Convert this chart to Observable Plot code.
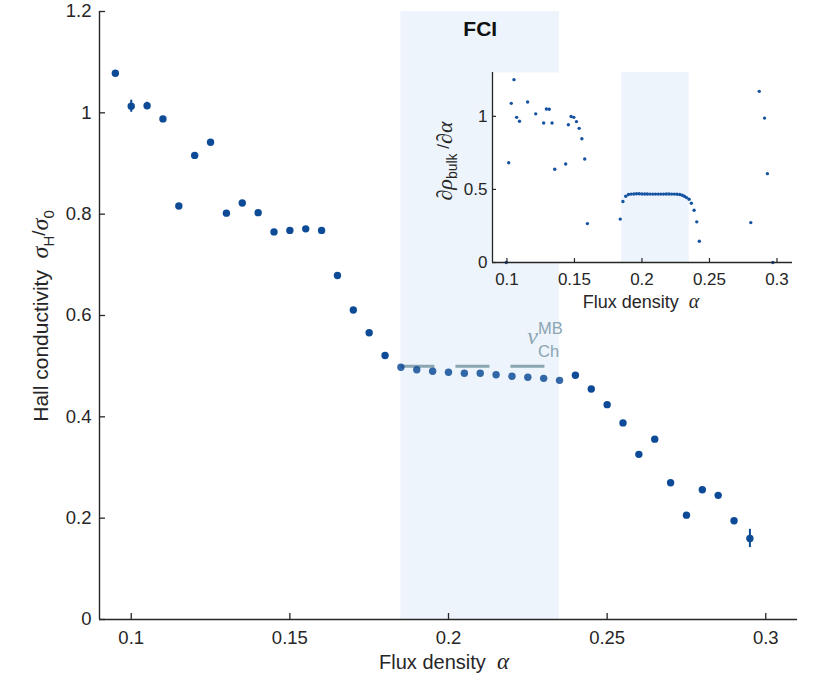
<!DOCTYPE html>
<html>
<head>
<meta charset="utf-8">
<script src="https://cdn.jsdelivr.net/npm/d3@7"></script>
<script src="https://cdn.jsdelivr.net/npm/@observablehq/plot@0.6"></script>
<style>
  body { margin: 0; background: #fff; }
  #wrap { position: relative; width: 830px; height: 683px; font-family: "Liberation Sans", Arial, sans-serif; }
  #inset { position: absolute; left: 432px; top: 67px; }
</style>
</head>
<body>
<div id="wrap"><div id="main"></div><div id="inset"></div></div>
<script>
// ---------- data: main panel ----------
const alpha = [0.095,0.100,0.105,0.110,0.115,0.120,0.125,0.130,0.135,0.140,0.145,0.150,0.155,0.160,0.165,0.170,0.175,0.180,0.185,0.190,0.195,0.200,0.205,0.210,0.215,0.220,0.225,0.230,0.235,0.240,0.245,0.250,0.255,0.260,0.265,0.270,0.275,0.280,0.285,0.290,0.295];
const sigmaH = [1.078,1.013,1.014,0.988,0.816,0.916,0.942,0.802,0.822,0.803,0.765,0.768,0.771,0.768,0.679,0.611,0.566,0.521,0.498,0.493,0.490,0.488,0.486,0.486,0.483,0.480,0.478,0.476,0.472,0.482,0.455,0.424,0.388,0.326,0.356,0.270,0.206,0.256,0.245,0.195,0.160];
const errAlpha = [0.100,0.105,0.295];
const errHalf  = [0.012,0.007,0.018];
const fciRange = [0.185, 0.235];
const nuChMB = 0.5;
const xTicks = [0.1,0.15,0.2,0.25,0.3];
const yTicks = [0,0.2,0.4,0.6,0.8,1,1.2];

// ---------- data: inset ----------
const insetAlpha = [0.0995,0.1013,0.1032,0.1052,0.1072,0.1093,0.1153,0.1213,0.1272,0.1292,0.1313,0.1334,0.1354,0.1435,0.1455,0.1475,0.1495,0.1515,0.1535,0.1555,0.1576,0.1596,0.1839,0.1859,0.1880,0.1900,0.1920,0.1940,0.1960,0.1980,0.2000,0.2020,0.2040,0.2060,0.2080,0.2100,0.2120,0.2140,0.2160,0.2180,0.2200,0.2220,0.2240,0.2260,0.2280,0.2298,0.2314,0.2330,0.2349,0.2366,0.2386,0.2406,0.2425,0.2806,0.2869,0.2908,0.2929,0.2970];
const insetDeriv = [0,0.683,1.089,1.251,0.993,0.966,1.098,1.017,0.954,1.05,1.049,0.954,0.638,0.674,0.942,0.999,0.993,0.964,0.918,0.847,0.708,0.266,0.297,0.417,0.453,0.465,0.468,0.469,0.470,0.470,0.469,0.469,0.469,0.468,0.468,0.468,0.468,0.468,0.468,0.469,0.469,0.468,0.468,0.467,0.465,0.460,0.453,0.444,0.433,0.405,0.358,0.278,0.145,0.273,1.171,0.988,0.608,0];
const insetXTicks = [0.1,0.15,0.2,0.25,0.3];
const insetYTicks = [0,0.5,1];

// ---------- styles ----------
const ink = "#262626";
const dotColor = "#0e4b96";
const shade = "#edf4fc";
const nuColor = "#8ba5b1";
const sans = "Liberation Sans, Arial, sans-serif";
const serif = "Liberation Serif, DejaVu Serif, serif";
const fmt = d => String(+d.toFixed(2));

const pts = alpha.map((a, i) => ({a, s: sigmaH[i], inFci: a >= fciRange[0] && a <= fciRange[1]}));
const errs = errAlpha.map((a, i) => {
  const s = sigmaH[alpha.findIndex(v => Math.abs(v - a) < 1e-9)];
  return {a, lo: s - errHalf[i], hi: s + errHalf[i]};
});

const main = Plot.plot({
  width: 830, height: 683,
  marginLeft: 99, marginRight: 33, marginTop: 11, marginBottom: 64,
  style: {background: "transparent", fontFamily: sans, color: ink},
  x: {domain: [0.09, 0.31]},
  y: {domain: [0, 1.2]},
  marks: [
    Plot.rect([fciRange], {x1: d => d[0], x2: d => d[1], y1: 0, y2: 1.2, fill: shade}),
    Plot.ruleY([nuChMB], {x1: fciRange[0], x2: fciRange[1], stroke: nuColor, strokeWidth: 3, strokeDasharray: "34,21"}),
    Plot.ruleX(errs, {x: "a", y1: "lo", y2: "hi", stroke: dotColor, strokeWidth: 2}),
    Plot.dot(pts, {x: "a", y: "s", r: 3.7, fill: dotColor, fillOpacity: d => d.inFci ? 0.84 : 1, stroke: "none"}),
    Plot.ruleY([0], {stroke: ink, strokeWidth: 1.4}),
    Plot.ruleX([0.09], {stroke: ink, strokeWidth: 1.4}),
    Plot.ruleX(xTicks, {x: d => d, y1: 0, y2: 0, insetBottom: 6, stroke: ink, strokeWidth: 1.3}),
    Plot.ruleY(yTicks, {y: d => d, x1: 0.09, x2: 0.09, insetRight: -6, stroke: ink, strokeWidth: 1.3}),
    Plot.axisX({ticks: xTicks, tickFormat: fmt, tickSize: 0, tickPadding: 11, fontSize: 18.5, label: null, fill: ink}),
    Plot.axisY({ticks: yTicks, tickFormat: fmt, tickSize: 0, tickPadding: 8, fontSize: 18.5, label: null, fill: ink}),
    Plot.text(["FCI"], {x: 0.21, y: 1.164, text: d => d, fontSize: 21, fontWeight: "bold", fill: "#111"}),
    Plot.text(["ν"], {x: 0.2282, y: 0.5444, text: d => d, textAnchor: "end", lineAnchor: "bottom", fontSize: 24, fontStyle: "italic", fontFamily: serif, fill: nuColor}),
    Plot.text(["MB"], {x: 0.2282, y: 0.5444, text: d => d, textAnchor: "start", lineAnchor: "bottom", dy: -10, fontSize: 16.5, fill: nuColor}),
    Plot.text(["Ch"], {x: 0.2282, y: 0.5444, text: d => d, textAnchor: "start", lineAnchor: "bottom", dy: 13, fontSize: 16.5, fill: nuColor})
  ]
});
document.getElementById("main").appendChild(main);

{
  const svg = d3.select(main);
  const xt = svg.append("text").attr("x", 444).attr("y", 669).attr("text-anchor", "middle")
    .attr("font-size", 20).attr("fill", ink).attr("font-family", sans);
  xt.append("tspan").text("Flux density  ");
  xt.append("tspan").attr("font-family", serif).attr("font-style", "italic").attr("font-size", 23).text("α");

  const yt = svg.append("text").attr("transform", "translate(48,316) rotate(-90)").attr("text-anchor", "middle")
    .attr("font-size", 21).attr("fill", ink).attr("font-family", sans);
  yt.append("tspan").text("Hall conductivity  ");
  yt.append("tspan").attr("font-family", serif).attr("font-style", "italic").attr("font-size", 24).text("σ");
  yt.append("tspan").attr("dy", 6).attr("font-size", 15).text("H");
  yt.append("tspan").attr("dy", -9).attr("font-size", 19).text("/");
  yt.append("tspan").attr("dy", 3).attr("font-family", serif).attr("font-style", "italic").attr("font-size", 24).text("σ");
  yt.append("tspan").attr("dy", 6).attr("font-size", 15).text("0");
}

// ---------- inset ----------
const inPts = insetAlpha.map((a, i) => ({a, d: insetDeriv[i]}));
const xDom = [0.0893, 0.3115];
const inset = Plot.plot({
  width: 378, height: 253,
  marginLeft: 60, marginRight: 18, marginTop: 5, marginBottom: 58,
  style: {background: "transparent", fontFamily: sans, color: ink},
  x: {domain: xDom},
  y: {domain: [0, 1.3]},
  marks: [
    Plot.frame({fill: "white", stroke: "none"}),
    Plot.rect([fciRange], {x1: d => d[0], x2: d => d[1], y1: 0, y2: 1.3, fill: shade}),
    Plot.dot(inPts, {x: "a", y: "d", r: 1.7, fill: "#1552a0", stroke: "none"}),
    Plot.ruleY([0], {stroke: ink, strokeWidth: 1.3}),
    Plot.ruleX([xDom[0]], {stroke: ink, strokeWidth: 1.3}),
    Plot.ruleX(insetXTicks, {x: d => d, y1: 0, y2: 0, insetBottom: 4, stroke: ink, strokeWidth: 1.2}),
    Plot.ruleY(insetYTicks, {y: d => d, x1: xDom[0], x2: xDom[0], insetRight: -4, stroke: ink, strokeWidth: 1.2}),
    Plot.axisX({ticks: insetXTicks, tickFormat: fmt, tickSize: 0, tickPadding: 10, fontSize: 17, label: null, fill: ink}),
    Plot.axisY({ticks: insetYTicks, tickFormat: fmt, tickSize: 0, tickPadding: 5, fontSize: 17, label: null, fill: ink})
  ]
});
document.getElementById("inset").appendChild(inset);
{
  const svg = d3.select(inset);
  const xt = svg.append("text").attr("x", 641 - 432).attr("y", 308 - 67).attr("text-anchor", "middle")
    .attr("font-size", 18).attr("fill", ink).attr("font-family", sans);
  xt.append("tspan").text("Flux density  ");
  xt.append("tspan").attr("font-family", serif).attr("font-style", "italic").attr("font-size", 20).text("α");

  const yt = svg.append("text").attr("transform", `translate(${452 - 432},${161 - 67}) rotate(-90)`).attr("text-anchor", "middle")
    .attr("font-size", 18).attr("fill", ink).attr("font-family", sans);
  yt.append("tspan").attr("font-family", serif).attr("font-style", "italic").attr("font-size", 22).text("∂ρ");
  yt.append("tspan").attr("dy", 5).attr("font-size", 14).text("bulk");
  yt.append("tspan").attr("dy", -8).attr("font-size", 17).text(" /");
  yt.append("tspan").attr("dy", 3).attr("font-family", serif).attr("font-style", "italic").attr("font-size", 22).text("∂α");
}
</script>
</body>
</html>
